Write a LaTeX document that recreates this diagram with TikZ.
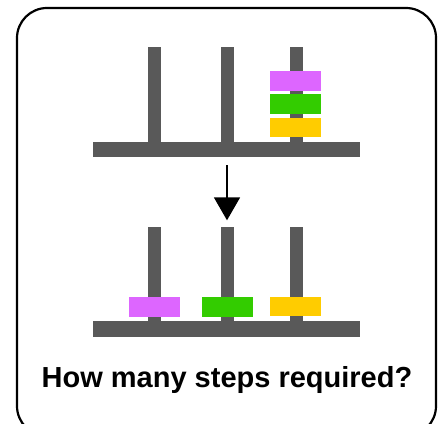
\documentclass[tikz,border=0pt]{standalone}
\usepackage{fontspec}
\setmainfont{Liberation Sans}
\usetikzlibrary{arrows.meta}
\definecolor{rodgray}{HTML}{595959}
\definecolor{diskpink}{HTML}{DD66FF}
\definecolor{diskgreen}{HTML}{33CC00}
\definecolor{diskyellow}{HTML}{FFCC00}
\begin{document}
\begin{tikzpicture}[x=1pt,y=-1pt,
  peg/.style={fill=rodgray,inner sep=0,minimum width=13pt,minimum height=95pt},
  base/.style={fill=rodgray,inner sep=0,minimum width=267pt,minimum height=15.5pt},
  disk/.style={inner sep=0,minimum width=51pt,minimum height=19.5pt},
  frame/.style={draw=black,line width=2.2pt,rounded corners=30pt}]
\useasboundingbox (0,0) rectangle (438,423);
\clip (0,0) rectangle (438,423);
\fill[white] (0,0) rectangle (438,423);
\draw[frame] (17,8) rectangle (436,436);
% top tower
\node[peg] (tp1) at (154,94.5) {};
\node[peg] (tp2) at (227,94.5) {};
\node[peg] (tp3) at (296,94.5) {};
\node[base] (tb) at (226.5,149.5) {};
\node[disk,fill=diskpink] (td1) at (295.5,81) {};
\node[disk,fill=diskgreen] (td2) at (295.5,104) {};
\node[disk,fill=diskyellow] (td3) at (295.5,127.5) {};
% bottom tower
\node[peg] (bp1) at (154,274) {};
\node[peg] (bp2) at (227,274) {};
\node[peg] (bp3) at (296,274) {};
\node[base] (bb) at (226.5,329) {};
\node[disk,fill=diskpink] (bd1) at (154,307) {};
\node[disk,fill=diskgreen] (bd2) at (227,307) {};
\node[disk,fill=diskyellow] (bd3) at (295.5,306.5) {};
% arrow
\coordinate (astart) at (227,165);
\draw[line width=1.8pt,-{Triangle[width=26pt,length=23pt]},shorten >=6pt] (astart) -- (bp2.north);
% caption
\node[font=\fontsize{29}{34}\selectfont\bfseries,inner sep=0] (cap) at (227,380) {How many steps required?};
\end{tikzpicture}
\end{document}
